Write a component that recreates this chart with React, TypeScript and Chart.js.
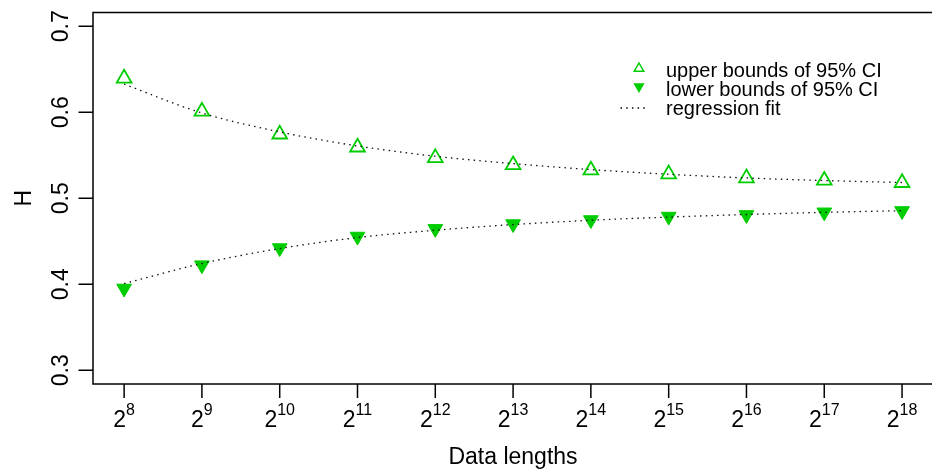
import React, { useEffect, useRef } from 'react';
import { Chart, registerables } from 'chart.js';

Chart.register(...registerables);

// ---- data ----
const exponents = [8, 9, 10, 11, 12, 13, 14, 15, 16, 17, 18];
const upperBounds = [0.6395, 0.601, 0.5744, 0.5593, 0.547, 0.5387, 0.5326, 0.528, 0.5235, 0.5207, 0.518];
const lowerBounds = [0.3951, 0.4222, 0.4421, 0.4555, 0.4644, 0.47, 0.4747, 0.4787, 0.4806, 0.4837, 0.4852];
const upperFit = [0.6326, 0.5992, 0.5771, 0.5608, 0.5488, 0.5403, 0.5333, 0.5279, 0.5236, 0.5206, 0.5183];
const lowerFit = [0.4008, 0.4241, 0.4415, 0.4543, 0.4628, 0.4694, 0.4744, 0.4781, 0.4811, 0.4836, 0.4856];
const yTicks = [0.3, 0.4, 0.5, 0.6, 0.7];
const yTickLabels = ['0.3', '0.4', '0.5', '0.6', '0.7'];
const xTickBase = '2';
const legendLabels = ['upper bounds of 95% CI', 'lower bounds of 95% CI', 'regression fit'];
const xTitle = 'Data lengths';
const yTitle = 'H';

const GREEN = '#00CD00';
const FONT = '"Liberation Sans", Arial, Helvetica, sans-serif';

const axesPlugin = {
  id: 'rAxes',
  afterDraw(chart: any) {
    const { ctx, chartArea: a, scales } = chart;
    const xs = scales.x;
    const ys = scales.y;
    ctx.save();
    ctx.strokeStyle = '#000';
    ctx.fillStyle = '#000';
    ctx.lineWidth = 1.5;
    // box (right side falls just outside the canvas)
    ctx.strokeRect(a.left, a.top, a.right + 1.5 - a.left, a.bottom - a.top);

    // y ticks + labels
    ctx.font = `23px ${FONT}`;
    yTicks.forEach((v, i) => {
      const py = ys.getPixelForValue(v);
      ctx.beginPath();
      ctx.moveTo(a.left - 14.5, py);
      ctx.lineTo(a.left, py);
      ctx.stroke();
      ctx.save();
      ctx.translate(68.3, py);
      ctx.rotate(-Math.PI / 2);
      ctx.textAlign = 'center';
      ctx.textBaseline = 'alphabetic';
      ctx.fillText(yTickLabels[i], 0, 0);
      ctx.restore();
    });

    // x ticks + labels (2^k)
    exponents.forEach((e) => {
      const px = xs.getPixelForValue(e);
      ctx.beginPath();
      ctx.moveTo(px, a.bottom);
      ctx.lineTo(px, a.bottom + 14);
      ctx.stroke();
      ctx.font = `23px ${FONT}`;
      const w1 = ctx.measureText(xTickBase).width;
      ctx.font = `16px ${FONT}`;
      const sup = String(e);
      const w2 = ctx.measureText(sup).width;
      const start = px - (w1 + w2) / 2;
      ctx.textAlign = 'left';
      ctx.textBaseline = 'alphabetic';
      ctx.font = `23px ${FONT}`;
      ctx.fillText(xTickBase, start, 426.7);
      ctx.font = `16px ${FONT}`;
      ctx.fillText(sup, start + w1, 415);
    });

    // axis titles
    ctx.font = `23px ${FONT}`;
    ctx.textAlign = 'center';
    ctx.fillText(xTitle, (a.left + a.right + 1) / 2, 463.5);
    ctx.save();
    ctx.translate(30.7, (a.top + a.bottom) / 2);
    ctx.rotate(-Math.PI / 2);
    ctx.fillText(yTitle, 0, 0);
    ctx.restore();

    // legend
    const lx = 639;
    ctx.strokeStyle = GREEN;
    ctx.lineWidth = 1.5;
    let r = 5.5;
    let cy = 68.5;
    ctx.beginPath();
    ctx.moveTo(lx, cy - r);
    ctx.lineTo(lx + r * 0.866, cy + r / 2);
    ctx.lineTo(lx - r * 0.866, cy + r / 2);
    ctx.closePath();
    ctx.stroke();
    r = 6.5;
    cy = 86.5;
    ctx.fillStyle = GREEN;
    ctx.beginPath();
    ctx.moveTo(lx, cy + r);
    ctx.lineTo(lx + r * 0.866, cy - r / 2);
    ctx.lineTo(lx - r * 0.866, cy - r / 2);
    ctx.closePath();
    ctx.fill();
    ctx.strokeStyle = '#000';
    ctx.lineWidth = 1.3;
    ctx.setLineDash([1.5, 4.2]);
    ctx.beginPath();
    ctx.moveTo(620.5, 108);
    ctx.lineTo(647, 108);
    ctx.stroke();
    ctx.setLineDash([]);
    ctx.fillStyle = '#000';
    ctx.font = `20px ${FONT}`;
    ctx.textAlign = 'left';
    ctx.fillText(legendLabels[0], 666, 76.5);
    ctx.fillText(legendLabels[1], 666, 95.5);
    ctx.fillText(legendLabels[2], 666, 114.5);
    ctx.restore();
  },
};

export default function App() {
  const canvasRef = useRef<HTMLCanvasElement | null>(null);

  useEffect(() => {
    if (!canvasRef.current) return;
    const pts = (vals: number[]) => exponents.map((e, i) => ({ x: e, y: vals[i] }));
    const chart = new Chart(canvasRef.current, {
      type: 'scatter',
      data: {
        datasets: [
          {
            label: 'upper fit',
            data: pts(upperFit),
            showLine: true,
            borderColor: '#111',
            borderWidth: 1.3,
            borderDash: [1.5, 4.2],
            pointRadius: 0,
            cubicInterpolationMode: 'monotone',
            fill: false,
          },
          {
            label: 'lower fit',
            data: pts(lowerFit),
            showLine: true,
            borderColor: '#111',
            borderWidth: 1.3,
            borderDash: [1.5, 4.2],
            pointRadius: 0,
            cubicInterpolationMode: 'monotone',
            fill: false,
          },
          {
            label: legendLabels[0],
            data: pts(upperBounds),
            showLine: false,
            pointStyle: 'triangle',
            pointRadius: 8.5,
            pointBorderWidth: 1.8,
            borderColor: GREEN,
            backgroundColor: 'rgba(0,0,0,0)',
            pointBackgroundColor: 'rgba(0,0,0,0)',
          },
          {
            label: legendLabels[1],
            data: pts(lowerBounds),
            showLine: false,
            pointStyle: 'triangle',
            rotation: 180,
            pointRadius: 8.5,
            pointBorderWidth: 1,
            borderColor: GREEN,
            backgroundColor: GREEN,
            pointBackgroundColor: GREEN,
          },
        ],
      } as any,
      options: {
        animation: false,
        responsive: false,
        devicePixelRatio: 1,
        layout: { autoPadding: false, padding: { left: 93, top: 12.5, right: 0, bottom: 89 } },
        plugins: { legend: { display: false }, title: { display: false }, tooltip: { enabled: false } },
        events: [],
        scales: {
          x: { type: 'linear', min: 7.6, max: 18.385, display: false },
          y: { type: 'linear', min: 0.284, max: 0.716, display: false },
        },
      } as any,
      plugins: [axesPlugin],
    });
    return () => chart.destroy();
  }, []);

  return (
    <div style={{ position: 'absolute', left: 0, top: 0, width: 932, height: 473, background: '#fff' }}>
      <canvas ref={canvasRef} width={932} height={473} style={{ display: 'block' }} />
    </div>
  );
}
